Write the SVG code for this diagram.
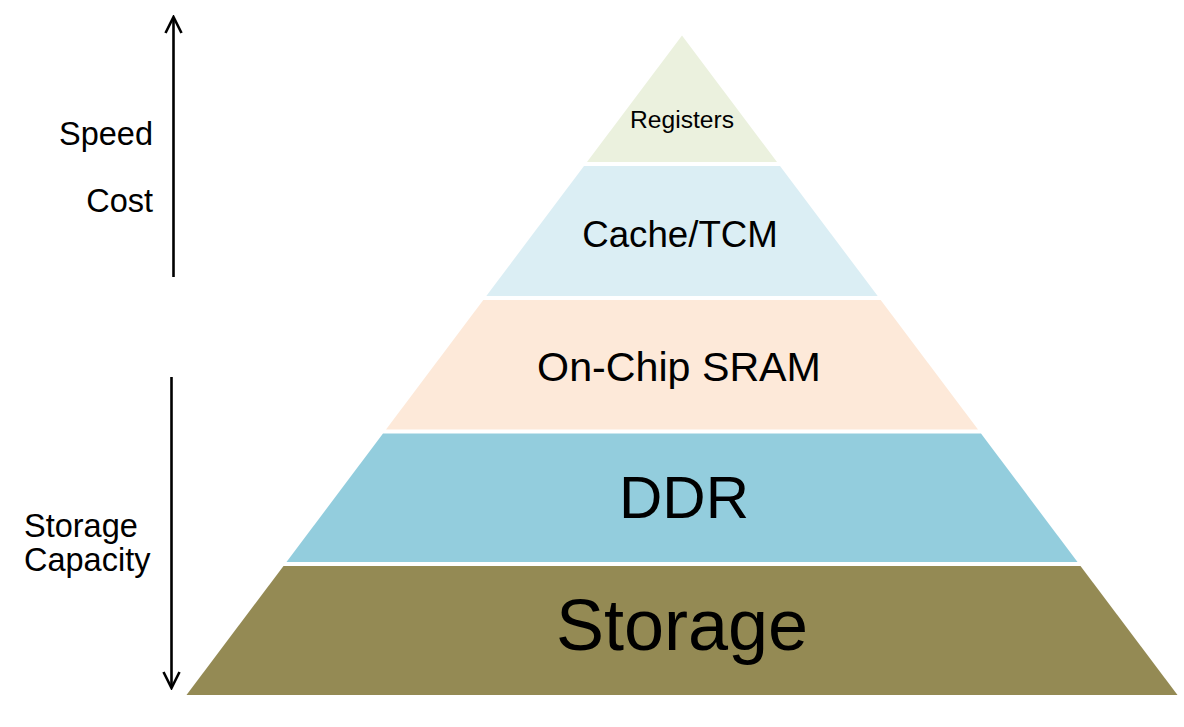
<svg xmlns="http://www.w3.org/2000/svg" width="1184" height="727" viewBox="0 0 1184 727">
<style>
  text { font-family: "Liberation Sans", Arial, sans-serif; fill: #000; }
  .c { text-anchor: middle; }
  .lbl { font-size: 32.5px; }
  .arr { stroke: #000; stroke-width: 2.6; fill: none; }
</style>
<defs>
  <marker id="open" viewBox="0 0 20 20" refX="18" refY="10" markerWidth="20" markerHeight="20" markerUnits="userSpaceOnUse" orient="auto">
    <path d="M2,2 L18,10 L2,18" fill="none" stroke="#000" stroke-width="2.6"/>
  </marker>
</defs>
<rect width="1184" height="727" fill="#fff"/>
<g id="registers">
  <polygon points="682,35.6 777,162 587,162" fill="#EBF1DE"/>
  <text class="c" x="682" y="128" font-size="24.6">Registers</text>
</g>
<g id="cache">
  <polygon points="584,166 780,166 877.7,296 486.3,296" fill="#DBEEF4"/>
  <text class="c" x="680" y="247" font-size="36.7">Cache/TCM</text>
</g>
<g id="sram">
  <polygon points="483.3,300 880.7,300 978,429.5 386,429.5" fill="#FDE9D9"/>
  <text class="c" x="679" y="381" font-size="41.2">On-Chip SRAM</text>
</g>
<g id="ddr">
  <polygon points="383,433.5 981,433.5 1077.5,562 286.5,562" fill="#93CDDD"/>
  <text class="c" x="684" y="518" font-size="60">DDR</text>
</g>
<g id="storage">
  <polygon points="283.5,566 1080.5,566 1177.5,695 186.5,695" fill="#948A54"/>
  <text class="c" x="682" y="650" font-size="72">Storage</text>
</g>
<g id="labels">
  <text class="lbl" x="153" y="145" text-anchor="end">Speed</text>
  <text class="lbl" x="153" y="212" text-anchor="end">Cost</text>
  <text class="lbl" x="24" y="537">Storage</text>
  <text class="lbl" x="24" y="571">Capacity</text>
</g>
<g id="connectors">
  <line class="arr" x1="173.5" y1="277" x2="173.5" y2="17" marker-end="url(#open)"/>
  <line class="arr" x1="171.5" y1="377" x2="171.5" y2="688" marker-end="url(#open)"/>
</g>
</svg>
